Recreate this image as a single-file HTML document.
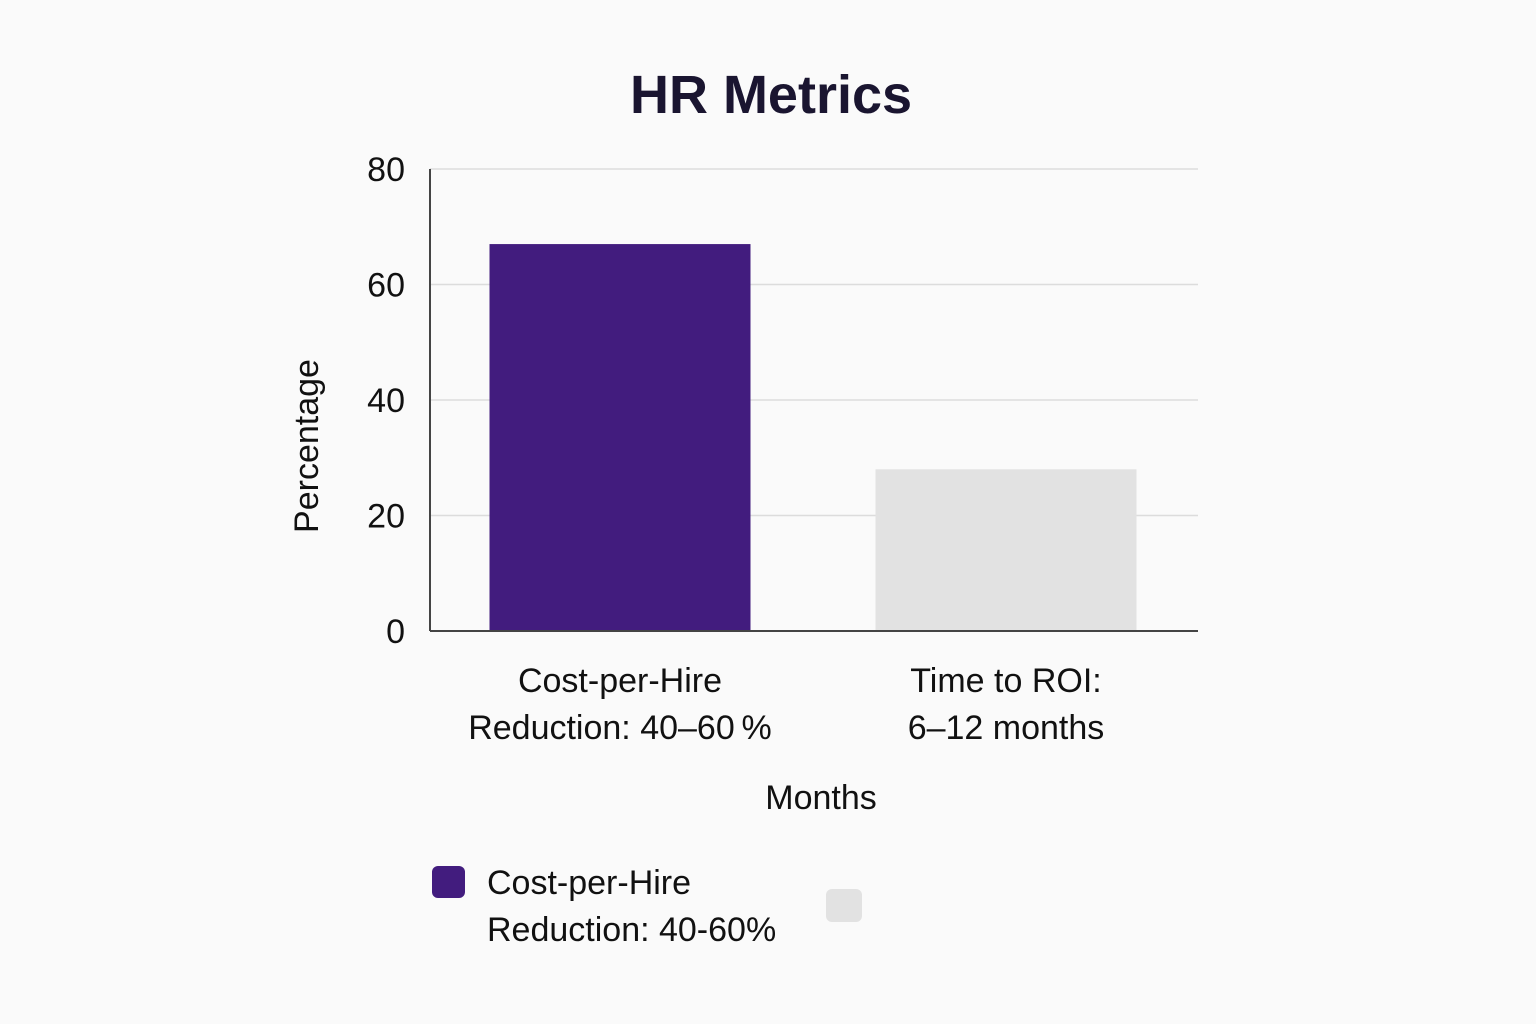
<!DOCTYPE html>
<html><head><meta charset="utf-8"><style>
html,body{margin:0;padding:0;background:#fafafa;}
svg{display:block;font-family:"Liberation Sans",sans-serif;}
</style></head><body>
<svg id="chart" width="1536" height="1024" viewBox="0 0 1536 1024">
<rect width="1536" height="1024" fill="#fafafa"/>
<text x="771" y="113" text-anchor="middle" font-size="54" font-weight="bold" fill="#1a1530">HR Metrics</text>
<g id="grid"></g><g id="bars"></g><g id="axes"></g><g id="labels"></g>
<text transform="translate(318,446) rotate(-90)" text-anchor="middle" font-size="34" fill="#111">Percentage</text>
<text x="821" y="809" text-anchor="middle" font-size="34" fill="#111">Months</text>
<g>
<rect x="432" y="866" width="33" height="32" rx="6" fill="#421c7e"/>
<text x="487" y="894" font-size="34" fill="#111">Cost-per-Hire</text>
<text x="487" y="941" font-size="34" fill="#111">Reduction: 40-60%</text>
<rect x="826" y="889" width="36" height="33" rx="6" fill="#e2e2e2"/>
</g>
</svg>
<script>
const categories = [["Cost-per-Hire","Reduction: 40\u201360\u2009%"],["Time to ROI:","6\u201312 months"]];
const values = [67, 28];
const yTicks = [0, 20, 40, 60, 80];
const colors = ["#421c7e", "#e2e2e2"];
const NS = "http://www.w3.org/2000/svg";
const x0 = 430, x1 = 1198, yBase = 631, yTop = 169, yMax = 80;
function y(v){ return yBase - (yBase - yTop) * v / yMax; }
const band = (x1 - x0) / categories.length;
function xc(i){ return x0 + band * (i + 0.5) + (i===0 ? -2 : 0); }
function mk(tag, attrs, parent){ const e = document.createElementNS(NS, tag); for (const k in attrs) e.setAttribute(k, attrs[k]); document.getElementById(parent).appendChild(e); return e; }
yTicks.forEach(t => {
  if (t > 0) {
    const g = mk("line", {x1: x0, x2: x1, y1: y(t), y2: y(t), stroke: "#dcdcdc", "stroke-width": 1.5}, "grid");
    
    
  }
  const l = mk("text", {x: 405, y: y(t) + 12, "text-anchor": "end", "font-size": 34, fill: "#111"}, "labels");
  l.textContent = t;
  
  
});
const bw = 261;
values.forEach((v, i) => {
  const b = mk("rect", {x: xc(i) - bw/2, y: y(v), width: bw, height: yBase - y(v), fill: colors[i]}, "bars");
  
  
  categories[i].forEach((line, j) => {
    const t = mk("text", {x: xc(i), y: 692 + j*47, "text-anchor": "middle", "font-size": 34, fill: "#111"}, "labels");
    t.textContent = line;
    
    
  });
});
const ya = mk("line", {x1: x0, x2: x0, y1: yTop, y2: yBase, stroke: "#444", "stroke-width": 2}, "axes");


const xa = mk("line", {x1: x0, x2: x1, y1: yBase, y2: yBase, stroke: "#444", "stroke-width": 2}, "axes");


</script>
</body></html>
